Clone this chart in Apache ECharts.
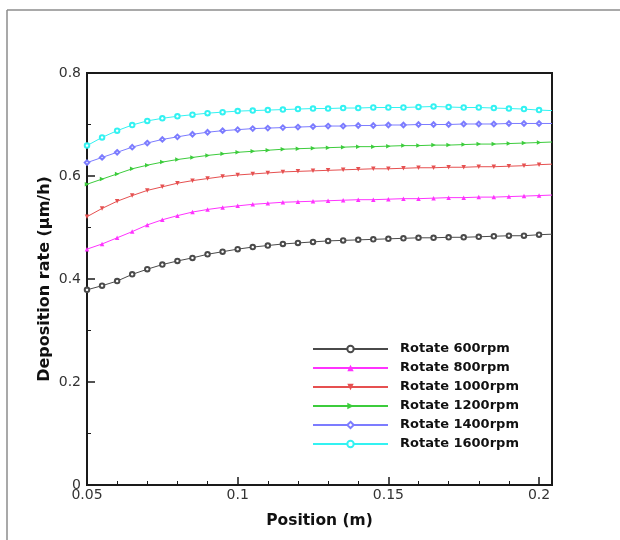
<!DOCTYPE html>
<html>
<head>
<meta charset="utf-8">
<script src="https://cdn.jsdelivr.net/npm/echarts@6/dist/echarts.min.js"></script>
<style>
  html, body { margin: 0; padding: 0; background: #ffffff; }
  #chart { width: 620px; height: 540px; }
</style>
</head>
<body>
<div id="chart"></div>
<script>
// Sampling positions along the substrate (m); the last sample reaches the plot edge
const positions = [0.05, 0.055, 0.06, 0.065, 0.07, 0.075, 0.08, 0.085, 0.09, 0.095,
  0.1, 0.105, 0.11, 0.115, 0.12, 0.125, 0.13, 0.135, 0.14, 0.145,
  0.15, 0.155, 0.16, 0.165, 0.17, 0.175, 0.18, 0.185, 0.19, 0.195, 0.2, 0.2043];

// Deposition rate (µm/h) for each rotation speed
const rate600 = [0.379, 0.387, 0.396, 0.409, 0.419, 0.428, 0.435, 0.441, 0.448, 0.453,
  0.458, 0.462, 0.465, 0.468, 0.470, 0.472, 0.474, 0.475, 0.476, 0.477,
  0.478, 0.479, 0.480, 0.480, 0.481, 0.481, 0.482, 0.483, 0.484, 0.484, 0.486, 0.487];
const rate800 = [0.458, 0.468, 0.480, 0.492, 0.505, 0.515, 0.523, 0.530, 0.535, 0.539,
  0.542, 0.545, 0.547, 0.549, 0.550, 0.551, 0.552, 0.553, 0.554, 0.554,
  0.555, 0.556, 0.556, 0.557, 0.558, 0.558, 0.559, 0.559, 0.560, 0.561, 0.562, 0.563];
const rate1000 = [0.521, 0.537, 0.551, 0.562, 0.572, 0.579, 0.586, 0.591, 0.595, 0.599,
  0.602, 0.604, 0.606, 0.608, 0.609, 0.610, 0.611, 0.612, 0.613, 0.614,
  0.614, 0.615, 0.616, 0.616, 0.617, 0.617, 0.618, 0.618, 0.619, 0.620, 0.622, 0.623];
const rate1200 = [0.584, 0.594, 0.604, 0.614, 0.621, 0.627, 0.632, 0.636, 0.640, 0.643,
  0.646, 0.648, 0.650, 0.652, 0.653, 0.654, 0.655, 0.656, 0.657, 0.657,
  0.658, 0.659, 0.659, 0.660, 0.660, 0.661, 0.662, 0.662, 0.663, 0.664, 0.665, 0.666];
const rate1400 = [0.626, 0.636, 0.646, 0.656, 0.664, 0.671, 0.676, 0.681, 0.685, 0.688,
  0.690, 0.692, 0.693, 0.694, 0.695, 0.696, 0.697, 0.697, 0.698, 0.698,
  0.699, 0.699, 0.700, 0.700, 0.700, 0.701, 0.701, 0.701, 0.702, 0.702, 0.702, 0.702];
const rate1600 = [0.659, 0.675, 0.688, 0.699, 0.707, 0.712, 0.716, 0.719, 0.722, 0.724,
  0.726, 0.727, 0.728, 0.729, 0.730, 0.731, 0.731, 0.732, 0.732, 0.733,
  0.733, 0.733, 0.734, 0.735, 0.734, 0.733, 0.733, 0.732, 0.731, 0.730, 0.728, 0.727];

const seriesNames = ['Rotate 600rpm', 'Rotate 800rpm', 'Rotate 1000rpm',
  'Rotate 1200rpm', 'Rotate 1400rpm', 'Rotate 1600rpm'];
const seriesValues = [rate600, rate800, rate1000, rate1200, rate1400, rate1600];

const xTicks = [0.05, 0.1, 0.15, 0.2];
const yTicks = [0, 0.2, 0.4, 0.6, 0.8];

const styles = [
  { color: '#4a4a4a', symbol: 'emptyCircle', rotate: 0 },
  { color: '#ff33ff', symbol: 'triangle', rotate: 0 },
  { color: '#e65050', symbol: 'triangle', rotate: 180 },
  { color: '#3ccc3c', symbol: 'triangle', rotate: -90 },
  { color: '#7c7cff', symbol: 'emptyDiamond', rotate: 0 },
  { color: '#33f2f2', symbol: 'emptyCircle', rotate: 0 }
];

const FONT = '"DejaVu Sans", "Liberation Sans", sans-serif';

const series = seriesNames.map((name, i) => ({
  name: name,
  type: 'line',
  symbol: styles[i].symbol,
  symbolRotate: styles[i].rotate,
  symbolSize: 4.5,
  showAllSymbol: true,
  color: styles[i].color,
  lineStyle: { width: 1, color: styles[i].color },
  itemStyle: { color: styles[i].color, borderWidth: 1 },
  emphasis: { disabled: true },
  data: positions.map((x, k) => {
    const item = { value: [x, seriesValues[i][k]] };
    if (k === positions.length - 1) item.symbol = 'none';
    return item;
  })
}));

const chart = echarts.init(document.getElementById('chart'), null, { renderer: 'canvas' });

chart.setOption({
  animation: false,
  backgroundColor: '#ffffff',
  graphic: [
    // page frame: top and left rules
    { type: 'line', shape: { x1: 7, y1: 10, x2: 620, y2: 10 }, style: { stroke: '#8c8c8c', lineWidth: 1.5 } },
    { type: 'line', shape: { x1: 7, y1: 10, x2: 7, y2: 540 }, style: { stroke: '#8c8c8c', lineWidth: 1.5 } }
  ],
  grid: {
    left: 87, right: 68, top: 73, bottom: 55,
    show: true, borderColor: '#1a1a1a', borderWidth: 2,
    outerBoundsMode: 'none'
  },
  legend: {
    orient: 'vertical',
    left: 312, top: 341,
    padding: 0,
    itemWidth: 75, itemHeight: 8, itemGap: 3,
    textStyle: { fontFamily: FONT, fontWeight: 'bold', fontSize: 13, lineHeight: 16, color: '#111', padding: [0, 0, 0, 7] },
    data: seriesNames
  },
  xAxis: {
    type: 'value',
    min: 0.05, max: 0.2043, interval: 0.05,
    name: 'Position (m)',
    nameLocation: 'middle', nameGap: 28,
    nameMoveOverlap: false,
    nameTextStyle: { fontFamily: FONT, fontWeight: 'bold', fontSize: 15.5, color: '#111' },
    axisLine: { onZero: false, lineStyle: { color: '#1a1a1a', width: 2 } },
    axisTick: { inside: true, length: 8, lineStyle: { color: '#1a1a1a', width: 1.5 } },
    minorTick: { show: true, splitNumber: 5, length: 4, lineStyle: { color: '#1a1a1a', width: 1 } },
    splitLine: { show: false },
    axisLabel: {
      fontFamily: FONT, fontSize: 14, color: '#333', margin: 3,
      showMaxLabel: false,
      formatter: v => {
        const hit = xTicks.find(t => Math.abs(t - v) < 1e-9);
        return hit === undefined ? '' : String(hit);
      }
    }
  },
  yAxis: {
    type: 'value',
    min: 0, max: 0.8, interval: 0.2,
    name: 'Deposition rate (μm/h)',
    nameLocation: 'middle', nameGap: 34,
    nameMoveOverlap: false,
    nameTextStyle: { fontFamily: FONT, fontWeight: 'bold', fontSize: 16, color: '#111' },
    axisLine: { lineStyle: { color: '#1a1a1a', width: 2 } },
    axisTick: { inside: true, length: 8, lineStyle: { color: '#1a1a1a', width: 1.5 } },
    minorTick: { show: true, splitNumber: 2, length: 4, lineStyle: { color: '#1a1a1a', width: 1 } },
    splitLine: { show: false },
    axisLabel: {
      fontFamily: FONT, fontSize: 14, color: '#333', margin: 6,
      formatter: v => {
        const hit = yTicks.find(t => Math.abs(t - v) < 1e-9);
        return hit === undefined ? '' : String(hit);
      }
    }
  },
  series: series
});
</script>
</body>
</html>
